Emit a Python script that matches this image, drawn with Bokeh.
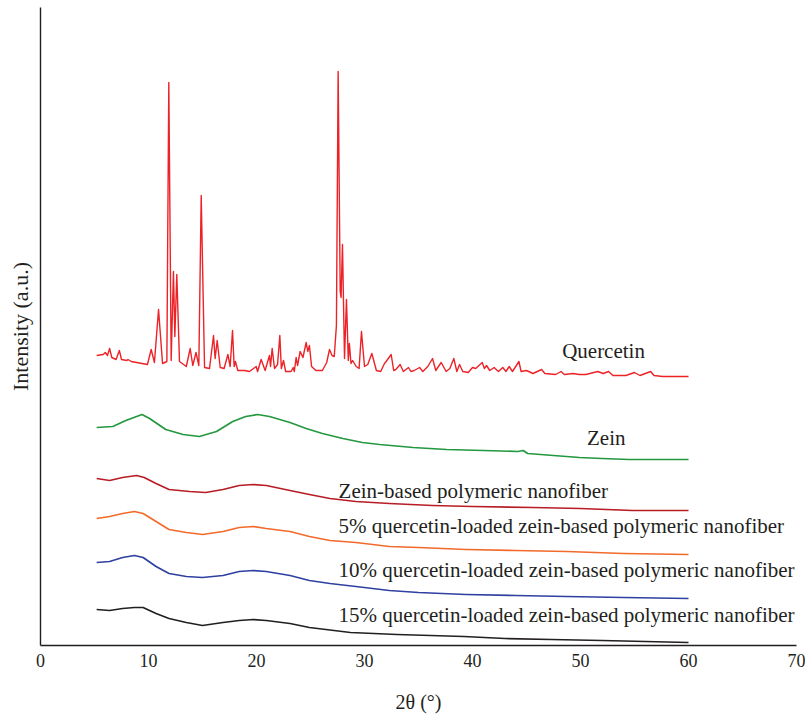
from bokeh.plotting import figure
from bokeh.models import FixedTicker, ColumnDataSource
from bokeh.core.properties import value
from bokeh.embed import file_html
from bokeh.resources import INLINE

# ---- Data (intensity in arbitrary units, stacked offsets included) ----
quercetin_x = [5.2, 5.8, 6.0, 6.2, 6.4, 6.6, 7.0, 7.3, 7.5, 8.0, 8.1, 8.4, 9.9, 10.25, 10.55, 10.93,
               11.3, 11.7, 11.88, 12.1, 12.31, 12.44, 12.62, 12.87, 13.5, 13.86, 14.1, 14.4, 14.66,
               14.88, 15.19, 15.65, 16.02, 16.17, 16.36, 16.64, 17.0, 17.35, 17.56, 17.78, 17.93,
               18.05, 18.27, 18.9, 19.35, 19.97, 20.1, 20.43, 20.8, 21.2, 21.3, 21.45, 21.67, 21.95,
               22.16, 22.3, 22.5, 22.7, 23.2, 23.4, 23.5, 23.67, 23.8, 24.04, 24.3, 24.6, 24.75,
               24.9, 25.1, 25.5, 26.1, 26.5, 26.76, 27.0, 27.2, 27.4, 27.56, 27.75, 27.83, 27.96,
               28.15, 28.33, 28.5, 28.6, 28.75, 28.9, 29.23, 29.5, 29.72, 30.0, 30.3, 30.68, 31.1,
               31.5, 31.85, 32.0, 32.47, 32.7, 32.9, 33.3, 33.6, 34.07, 34.3, 34.6, 35.1, 35.4,
               35.86, 36.3, 36.6, 37.1, 37.56, 37.9, 38.27, 38.55, 38.8, 39.1, 39.6, 40.0, 40.3,
               40.9, 41.1, 41.3, 41.6, 42.0, 42.4, 42.8, 43.1, 43.4, 43.7, 44.3, 44.5, 45.0, 45.6,
               46.4, 46.7, 47.7, 48.2, 48.5, 49.3, 49.9, 50.5, 51.6, 52.1, 52.6, 53.0, 54.2, 55.0,
               55.5, 56.5, 56.8, 57.6, 58.5, 60.0]
quercetin_y = [290, 291, 293, 290, 297, 288, 286, 295, 286, 285, 286, 284, 281, 296, 283, 336,
               282, 284, 563, 285, 374, 309, 371, 284, 279, 297, 280, 293, 280,
               450, 278, 277, 310, 287, 305, 278, 277, 291, 279, 315, 279,
               284, 275, 275, 274, 279, 274, 286, 275, 290, 279, 297, 277, 281,
               310, 277, 285, 274, 274, 278, 274, 288, 280, 294, 288, 303, 294,
               300, 279, 275, 275, 283, 296, 290, 289, 320, 574, 354, 348, 401,
               287, 346, 285, 302, 282, 285, 279, 277, 314, 279, 281, 292, 275,
               274, 282, 284, 291, 275, 276, 281, 274, 278, 274, 275, 278, 274,
               279, 287, 275, 283, 274, 277, 287, 274, 281, 274, 273, 278, 277,
               283, 277, 280, 275, 278, 274, 278, 274, 279, 274, 284, 274, 275, 272,
               276, 272, 271, 274, 271, 272, 271, 271, 274, 272, 274, 270, 270, 273,
               270, 274, 270, 269, 269, 269]

zein_x = [5.2, 6.7, 7.9, 9.4, 10.1, 11.6, 13.2, 14.7, 16.3, 17.8, 19.0, 20.1, 21.2, 23.1, 24.6,
          26.1, 28.0, 29.8, 31.4, 34.5, 37.6, 41.0, 44.2, 44.7, 45.1, 47.5, 49.9, 52.0, 54.5,
          57.0, 60.0]
zein_y = [218, 219, 225, 231, 227, 216, 211, 209, 214, 224, 229, 231, 229, 223, 217,
          212, 207, 203, 201, 198, 196, 195, 194, 195, 192, 190, 188, 187, 186,
          186, 186]

nanofiber_x = [5.2, 6.4, 7.6, 8.9, 9.6, 10.7, 11.9, 13.8, 15.3, 16.9, 18.4, 19.7, 20.9, 23.1,
               24.9, 26.8, 29.2, 32.3, 36.3, 40.0, 45.6, 50.0, 54.8, 60.0]
nanofiber_y = [167, 165, 168, 170, 168, 162, 156, 154, 153, 156, 160, 161, 160, 155,
               151, 147, 144, 142, 140, 139, 138, 137, 135, 135]

q5_x = [5.2, 6.4, 7.6, 8.7, 9.5, 10.7, 11.9, 13.5, 15.0, 16.9, 18.4, 19.7, 20.9, 23.1, 24.9,
        26.8, 29.2, 32.3, 35.0, 39.4, 44.0, 48.7, 54.0, 60.0]
q5_y = [127, 129, 132, 134, 132, 124, 116, 113, 111, 114, 118, 119, 117, 114, 109,
        105, 103, 99, 98, 96, 95, 94, 92, 91]

q10_x = [5.2, 6.4, 7.6, 8.7, 9.5, 10.7, 11.9, 13.5, 15.0, 16.9, 18.4, 19.7, 20.9, 23.1, 24.9,
         26.8, 29.2, 32.3, 35.0, 39.4, 44.0, 48.7, 54.0, 60.0]
q10_y = [83, 84, 88, 90, 88, 79, 72, 69, 68, 70, 74, 75, 74, 70, 65,
         62, 59, 55, 53, 51, 50, 49, 48, 47]

q15_x = [5.2, 6.4, 7.6, 8.7, 9.5, 10.7, 11.9, 13.5, 15.0, 16.9, 18.4, 19.7, 20.9, 23.1, 24.9,
         28.7, 33.0, 39.2, 43.0, 47.3, 52.0, 56.0, 60.0]
q15_y = [36, 35, 37, 38, 38, 32, 27, 23, 20, 23, 25, 26, 25, 22, 18,
         13, 11, 9, 7, 6, 5, 4, 3]

x_ticks = [0, 10, 20, 30, 40, 50, 60, 70]

series_names = ["Quercetin", "Zein", "Zein-based polymeric nanofiber",
                "5% quercetin-loaded zein-based polymeric nanofiber",
                "10% quercetin-loaded zein-based polymeric nanofiber",
                "15% quercetin-loaded zein-based polymeric nanofiber"]

# ---- Styles / annotation placement ----
colors = ["#ec2227", "#23983f", "#b81d25", "#f26b2b", "#2f40a0", "#231f20"]
widths = [1.4, 1.7, 1.7, 1.7, 1.7, 1.7]
label_x = [48.3, 50.6, 27.6, 27.6, 27.6, 27.6]
label_y = [295, 208, 155, 120, 76, 31]
FONT = "Liberation Serif"
TXT = "#231f20"

p = figure(width=805, height=720, x_range=(0, 70), y_range=(0, 638),
           output_backend="svg", toolbar_location=None,
           min_border_left=40, min_border_right=9, min_border_top=7, min_border_bottom=75)

p.background_fill_color = "white"
p.border_fill_color = "white"
p.outline_line_color = None
p.grid.grid_line_color = None

series = [(quercetin_x, quercetin_y), (zein_x, zein_y), (nanofiber_x, nanofiber_y),
          (q5_x, q5_y), (q10_x, q10_y), (q15_x, q15_y)]
for (xs, ys), c, w in zip(series, colors, widths):
    p.line(xs, ys, line_color=c, line_width=w, line_join="round")

src = ColumnDataSource(dict(x=label_x, y=label_y, text=series_names))
p.text(x="x", y="y", text="text", source=src, text_font=value(FONT),
       text_font_size=value("21px"), text_baseline="middle", text_align="left",
       text_color=TXT)

# x axis
xa = p.xaxis[0]
xa.ticker = FixedTicker(ticks=x_ticks)
xa.axis_label = "2θ (°)"
xa.axis_label_text_font = FONT
xa.axis_label_text_font_size = "20px"
xa.axis_label_text_font_style = "normal"
xa.axis_label_text_color = TXT
xa.axis_label_standoff = 21
xa.major_label_text_font = FONT
xa.major_label_text_font_size = "18px"
xa.major_label_text_color = TXT
xa.major_label_standoff = 8
xa.major_tick_line_color = None
xa.major_tick_out = 0
xa.major_tick_in = 0
xa.minor_tick_line_color = None
xa.axis_line_color = TXT
xa.axis_line_width = 1.4

# y axis
ya = p.yaxis[0]
ya.ticker = FixedTicker(ticks=[])
ya.axis_label = "Intensity (a.u.)"
ya.axis_label_text_font = FONT
ya.axis_label_text_font_size = "22px"
ya.axis_label_text_font_style = "normal"
ya.axis_label_text_color = TXT
ya.axis_label_standoff = 8
ya.major_label_standoff = 0
ya.major_tick_line_color = None
ya.major_tick_out = 0
ya.major_tick_in = 0
ya.minor_tick_line_color = None
ya.axis_line_color = TXT
ya.axis_line_width = 1.4

open("out.html", "w").write(file_html(p, INLINE))
